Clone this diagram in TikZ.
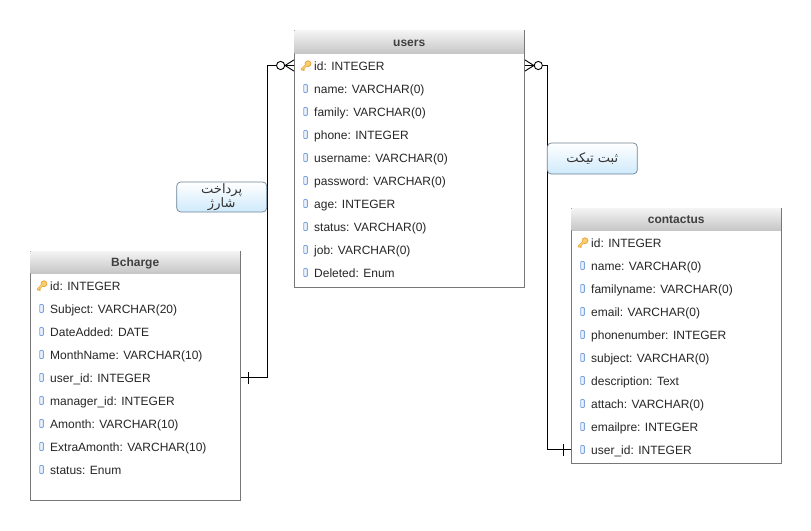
\documentclass[tikz,border=0pt]{standalone}
\usepackage{fontspec}
\setmainfont{Liberation Sans}
\newfontfamily\arabicfont[Script=Arabic]{DejaVu Sans}
\TeXXeTstate=1
\usetikzlibrary{calc}
\definecolor{edgegray}{HTML}{777777}
\definecolor{headtop}{HTML}{F4F4F4}
\definecolor{headbot}{HTML}{C6C6C6}
\definecolor{labtop}{HTML}{FFFFFF}
\definecolor{labbot}{HTML}{CFEAFB}
\definecolor{labedge}{HTML}{6F8496}
\definecolor{iconblue}{HTML}{7FA6DC}
\definecolor{iconfill}{HTML}{EAF2FC}
\definecolor{keyorange}{HTML}{E8A53A}
\definecolor{keyfill}{HTML}{F7CE70}
\tikzset{
  tablebody/.style={draw=edgegray,fill=white,line width=0.9pt,inner sep=0pt,anchor=north west},
  tablehead/.style={top color=headtop,bottom color=headbot,inner sep=0pt,anchor=north west,
    text height=9.5pt,text depth=0.5pt,
    font=\fontsize{12}{14}\selectfont\bfseries,text=black!75},
  rowtext/.style={anchor=west,inner sep=0pt,text height=11pt,text depth=1pt,
    font=\fontsize{12}{14}\selectfont,text=black!85},
  relation/.style={draw=black,line width=0.9pt},
  rellabel/.style={draw=labedge,rounded corners=4pt,top color=labtop,bottom color=labbot,
    line width=0.7pt,minimum width=90pt,inner sep=0pt,align=center,
    font=\arabicfont\fontsize{13}{13}\selectfont,text=black!80},
  colicon/.pic={\draw[draw=iconblue,fill=iconfill,line width=0.9pt,rounded corners=0.7pt] (-1.8,-4) rectangle (1.8,4);},
  keyicon/.pic={
    \draw[draw=keyorange,line width=2.4pt,line cap=round] (-4.2,4) -- (0.5,-0.6);
    \draw[draw=keyorange,line width=1.4pt] (-3,3.8) -- (-1.6,5);
    \draw[draw=keyorange,fill=keyfill,line width=0.8pt] (2,-1.8) circle (2.9);
    \draw[draw=keyfill,line width=1.4pt,line cap=round] (-3.9,3.6) -- (0.5,-0.6);
  },
  crowmany/.pic={
    \draw[relation] (0,-5.6) -- (-9,0) -- (0,5.6);
    \draw[relation,fill=white] (-13.4,0) circle (4.1);
  },
  crowone/.pic={\draw[relation] (0,-6) -- (0,6);}
}
% #1 prefix, #2 x of left edge, #3 y top, #4 height, #5 header height, #6 title, #7 width, #8 first row y, #9 rows
\newcommand{\ertable}[9]{%
  \node[tablebody,minimum width=#7 pt,minimum height=#4 pt] (#1) at (#2,#3) {};
  \node[tablehead,minimum width=#7 pt-0.9pt,minimum height=#5 pt] (#1head) at (#2+0.45,#3+0.45) {#6};
  \foreach \rowlabel [count=\rowno from 0] in {#9} {
    \node[rowtext] (#1\rowno) at (#2+20,#8+23*\rowno) {\rowlabel};
    \ifnum\rowno=0
      \pic at (#2+12,#8) [rotate=0] {keyicon};
    \else
      \pic at (#2+11.5,#8+23*\rowno) {colicon};
    \fi
  }
}
\begin{document}
\begin{tikzpicture}[x=1pt,y=-1pt]
\useasboundingbox (0,0) rectangle (811,530);
\fill[white] (0,0) rectangle (811,530);

\ertable{users}{294}{30}{256.5}{22.5}{users}{230}{65.5}{id: INTEGER,name: VARCHAR(0),family: VARCHAR(0),phone: INTEGER,username: VARCHAR(0),password: VARCHAR(0),age: INTEGER,status: VARCHAR(0),job: VARCHAR(0),Deleted: Enum}
\ertable{bcharge}{30}{250.5}{249.5}{22}{Bcharge}{210}{285.5}{id: INTEGER,Subject: VARCHAR(20),DateAdded: DATE,MonthName: VARCHAR(10),user\_id: INTEGER,manager\_id: INTEGER,Amonth: VARCHAR(10),ExtraAmonth: VARCHAR(10),status: Enum}
\ertable{contactus}{571}{207.5}{255.5}{22}{contactus}{210}{242.5}{id: INTEGER,name: VARCHAR(0),familyname: VARCHAR(0),email: VARCHAR(0),phonenumber: INTEGER,subject: VARCHAR(0),description: Text,attach: VARCHAR(0),emailpre: INTEGER,user\_id: INTEGER}

\coordinate (leftbend) at (267.5,200);
\coordinate (rightbend) at (547.5,200);

\draw[relation] (users.west |- users0) -| (leftbend) |- (bcharge.east |- bcharge4);
\draw[relation] (users.east |- users0) -| (rightbend) |- (contactus.west |- contactus9);

\pic at (users.west |- users0) {crowmany};
\pic[xscale=-1] at (users.east |- users0) {crowmany};
\pic at ($(bcharge.east |- bcharge4)+(8,0)$) {crowone};
\pic at ($(contactus.west |- contactus9)+(-8,0)$) {crowone};

\node[rellabel,minimum height=30pt] (paylabel) at (221.7,197) {\beginR پرداخت\endR\\\beginR شارژ\endR};
\node[rellabel,minimum height=31pt] (ticketlabel) at (592.3,158.5) {\beginR ثبت تیکت\endR};
\end{tikzpicture}
\end{document}
